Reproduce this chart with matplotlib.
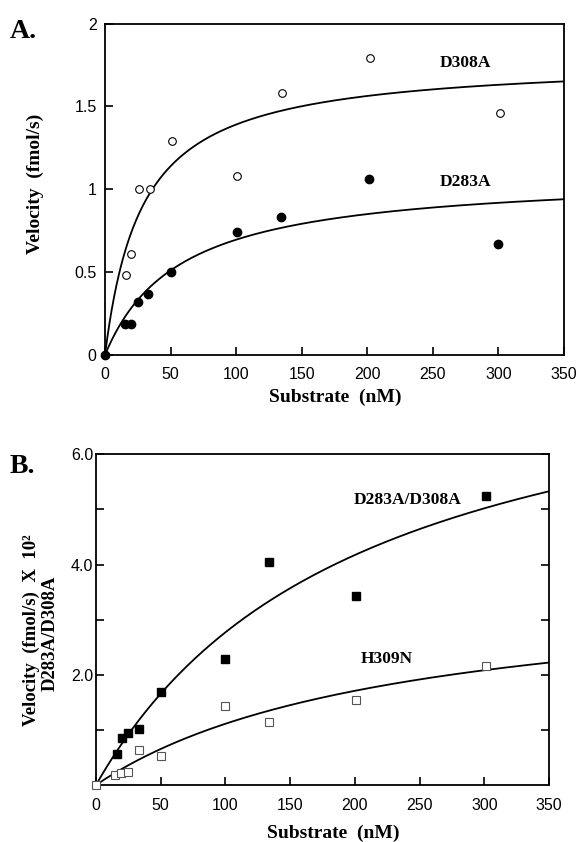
import numpy as np
import matplotlib
matplotlib.use("Agg")
import matplotlib.pyplot as plt

# ---------------- data ----------------
# Panel A
a_x_open = [0, 16, 20, 26, 34, 51, 101, 135, 202, 301]
a_y_open = [0, 0.48, 0.61, 1.00, 1.00, 1.29, 1.08, 1.58, 1.79, 1.46]
a_x_fill = [0, 15, 20, 25, 33, 50, 101, 134, 201, 300]
a_y_fill = [0, 0.19, 0.19, 0.32, 0.37, 0.50, 0.74, 0.83, 1.06, 0.67]
# Michaelis-Menten fit parameters (Vmax, Km)
a_fit_open = (1.784, 28.3)
a_fit_fill = (1.093, 57.1)
a_xticks = [0, 50, 100, 150, 200, 250, 300, 350]
a_yticks = [0, 0.5, 1, 1.5, 2]
a_yticklabels = ["0", "0.5", "1", "1.5", "2"]

# Panel B
b_x_fill = [16, 20, 25, 33, 50, 100, 134, 201, 301]
b_y_fill = [0.57, 0.86, 0.95, 1.01, 1.69, 2.29, 4.04, 3.43, 5.24]
b_x_open = [0, 15, 19, 25, 33, 50, 100, 134, 201, 301]
b_y_open = [0.0, 0.18, 0.21, 0.23, 0.64, 0.53, 1.43, 1.14, 1.54, 2.15]
b_fit_fill = (8.45, 205.0)
b_fit_open = (3.70, 233.0)
b_xticks = [0, 50, 100, 150, 200, 250, 300, 350]
b_yticks = [1, 2, 3, 4, 5, 6]
b_yticklabels = ["", "2.0", "", "4.0", "", "6.0"]

# ---------------- style ----------------
W, H = 577, 842
fig = plt.figure(figsize=(W / 100, H / 100), dpi=100)
serif = ["Liberation Serif", "DejaVu Serif"]
sans = ["Liberation Sans", "DejaVu Sans"]
LBL = 14
TICK = 11.5
ANN = 12.5


def fx(px):
    return px / W


def fy(py):
    return 1 - py / H


def style_axes(ax):
    for s in ax.spines.values():
        s.set_linewidth(1.3)
        s.set_color("black")
    ax.tick_params(direction="in", length=6, width=1.2, labelsize=TICK,
                   top=False, right=False)
    for lab in ax.get_xticklabels() + ax.get_yticklabels():
        lab.set_fontfamily(sans)


def mm(params, s):
    vm, km = params
    return vm * s / (km + s)


s_curve = np.linspace(0, 350, 400)

# ---------------- panel A ----------------
axA = fig.add_axes([fx(105), fy(355), fx(564 - 105), (355 - 23.5) / H])
axA.plot(s_curve, mm(a_fit_open, s_curve), color="black", lw=1.3)
axA.plot(s_curve, mm(a_fit_fill, s_curve), color="black", lw=1.3)
axA.plot(a_x_open, a_y_open, "o", mfc="white", mec="black", mew=0.8, ms=5.5,
         clip_on=False, zorder=3)
axA.plot(a_x_fill, a_y_fill, "o", mfc="black", mec="black", ms=6.0,
         clip_on=False, zorder=4)
axA.set_xlim(0, 350)
axA.set_ylim(0, 2)
axA.set_xticks(a_xticks)
axA.set_yticks(a_yticks)
axA.set_yticklabels(a_yticklabels)
style_axes(axA)
axA.tick_params(axis="y", pad=6)
axA.tick_params(axis="x", pad=9)
axA.text(275, 1.76, "D308A", fontfamily=serif, fontweight="bold", fontsize=ANN,
         ha="center", va="center")
axA.text(275, 1.045, "D283A", fontfamily=serif, fontweight="bold", fontsize=ANN,
         ha="center", va="center")

fig.text(fx(10), fy(38), "A.", fontfamily=serif, fontweight="bold",
         fontsize=20, ha="left", va="baseline")
fig.text(fx(40), fy(184), "Velocity  (fmol/s)", fontfamily=serif,
         fontweight="bold", fontsize=LBL, rotation=90, rotation_mode="anchor",
         ha="center", va="baseline")
fig.text(fx(335), fy(397), "Substrate  (nM)", fontfamily=serif,
         fontweight="bold", fontsize=LBL, ha="center", va="center")

# ---------------- panel B ----------------
axB = fig.add_axes([fx(96), fy(785), fx(549 - 96), (785 - 454.3) / H])
axB.plot(s_curve, mm(b_fit_fill, s_curve), color="black", lw=1.3)
axB.plot(s_curve, mm(b_fit_open, s_curve), color="black", lw=1.3)
axB.plot(b_x_open, b_y_open, "s", mfc="white", mec="#555555", mew=0.8, ms=6,
         clip_on=False, zorder=3)
axB.plot(b_x_fill, b_y_fill, "s", mfc="black", mec="black", ms=6.2,
         clip_on=False, zorder=4)
axB.set_xlim(0, 350)
axB.set_ylim(0, 6)
axB.set_xticks(b_xticks)
axB.set_yticks(b_yticks)
axB.set_yticklabels(b_yticklabels)
style_axes(axB)
axB.tick_params(axis="y", right=True, pad=2)
axB.tick_params(axis="x", pad=9)
axB.text(241, 5.17, "D283A/D308A", fontfamily=serif, fontweight="bold",
         fontsize=ANN, ha="center", va="center")
axB.text(224.5, 2.28, "H309N", fontfamily=serif, fontweight="bold",
         fontsize=ANN, ha="center", va="center")

fig.text(fx(10), fy(473), "B.", fontfamily=serif, fontweight="bold",
         fontsize=20, ha="left", va="baseline")
fig.text(fx(36), fy(630), "Velocity  (fmol/s)  X  10²", fontfamily=serif,
         fontweight="bold", fontsize=13.5, rotation=90, rotation_mode="anchor",
         ha="center", va="baseline")
fig.text(fx(55), fy(633), "D283A/D308A", fontfamily=serif,
         fontweight="bold", fontsize=13.5, rotation=90, rotation_mode="anchor",
         ha="center", va="baseline")
fig.text(fx(333), fy(833), "Substrate  (nM)", fontfamily=serif,
         fontweight="bold", fontsize=LBL, ha="center", va="center")

fig.savefig("out.png", dpi=100)
